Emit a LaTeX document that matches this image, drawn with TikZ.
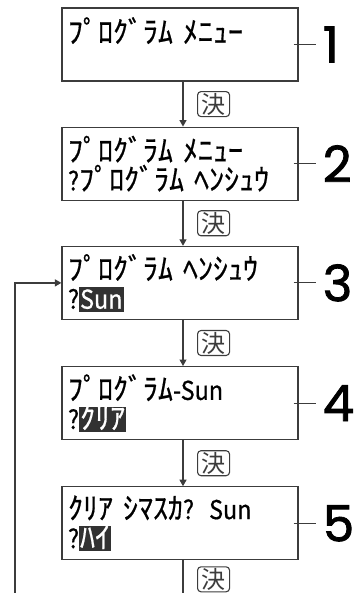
\documentclass[tikz,border=0pt]{standalone}
\usepackage{fontspec}
\usepackage{xcolor}
\newfontfamily\lcdfont[FakeBold=0.6]{Noto Sans CJK JP}
\newfontfamily\keyfont{Noto Sans CJK JP}
\newfontfamily\numfont[FakeBold=1.6]{Poppins}
\definecolor{linegray}{RGB}{60, 60, 60}
\definecolor{hlgray}{RGB}{50, 50, 50}
\usetikzlibrary{positioning,arrows.meta}
% Latin letters of the display
\newcommand{\lat}[1]{{\fontsize{26}{29}\selectfont\addfontfeature{FakeStretch=0.9}#1}}
% inverted (selected) field
\newcommand{\hilite}[1]{{\setlength{\fboxsep}{0pt}\colorbox{hlgray}{\hspace{1pt}\rule[-3pt]{0pt}{25pt}\smash{\textcolor{white}{#1}}\hspace{1pt}}}}

\begin{document}
\begin{tikzpicture}[x=1pt, y=-1pt,
    lcdbox/.style={draw=linegray, line width=1.2pt, minimum width=236pt, minimum height=73pt,
        inner xsep=5pt, text width=224pt, align=left,
        font={\lcdfont\fontsize{30}{29}\selectfont\spaceskip=15pt\relax}},
    keylbl/.style={draw=linegray, line width=1.1pt, rounded corners=3.5pt, minimum width=32pt,
        minimum height=25pt, inner sep=0pt, font={\keyfont\fontsize{24}{24}\selectfont}},
    numlbl/.style={inner sep=0pt, font={\numfont\fontsize{50}{50}\selectfont}, text=black},
    flow/.style={linegray, line width=1.2pt, -{Triangle[width=7pt,length=6.5pt]}},
    leader/.style={linegray, line width=1pt},
    node distance=45pt]
    \useasboundingbox (0,0) rectangle (359,593);

    % Display boxes
    \node[lcdbox] (b1) at (180,44.5) {ﾌﾟﾛｸﾞﾗﾑ ﾒﾆｭｰ\\\mbox{}};
    \node[lcdbox, below=of b1] (b2) {ﾌﾟﾛｸﾞﾗﾑ ﾒﾆｭｰ\\\lat{?}ﾌﾟﾛｸﾞﾗﾑ ﾍﾝｼｭｳ};
    \node[lcdbox, below=of b2] (b3) {ﾌﾟﾛｸﾞﾗﾑ ﾍﾝｼｭｳ\\\lat{?}\hilite{\lat{Sun}}};
    \node[lcdbox, below=46pt of b3] (b4) {ﾌﾟﾛｸﾞﾗﾑ\lat{-Sun}\\\lat{?}\hilite{ｸﾘｱ}};
    \node[lcdbox, below=46pt of b4] (b5) {ｸﾘｱ ｼﾏｽｶ\lat{?} \lat{Sun}\\\lat{?}\hilite{ﾊｲ}};

    % Step numbers
    \foreach \i in {1,...,5} {
        \draw[leader] ([xshift=-5pt]b\i.east) -- ++(22pt,0) coordinate (l\i);
        \node[numlbl, right=7pt of l\i] (n\i) {\i};
    }

    % Flow with the key
    \draw[flow] ([xshift=3pt]b1.south) -- node[keylbl, right=14pt] (k1) {決} ([xshift=3pt]b2.north);
    \draw[flow] ([xshift=3pt]b2.south) -- node[keylbl, right=14pt] (k2) {決} ([xshift=3pt]b3.north);
    \draw[flow] ([xshift=3pt]b3.south) -- node[keylbl, right=14pt] (k3) {決} ([xshift=3pt]b4.north);
    \draw[flow] ([xshift=3pt]b4.south) -- node[keylbl, right=14pt] (k4) {決} ([xshift=3pt]b5.north);
    \coordinate (out) at (183,593);
    \draw[leader, line width=1.2pt] ([xshift=3pt]b5.south) -- node[pos=0.58, keylbl, right=14pt] (k5) {決} (out);

    % Back to step 3
    \coordinate (back) at (15,593);
    \draw[flow] (back) |- (b3.west);
\end{tikzpicture}
\end{document}
